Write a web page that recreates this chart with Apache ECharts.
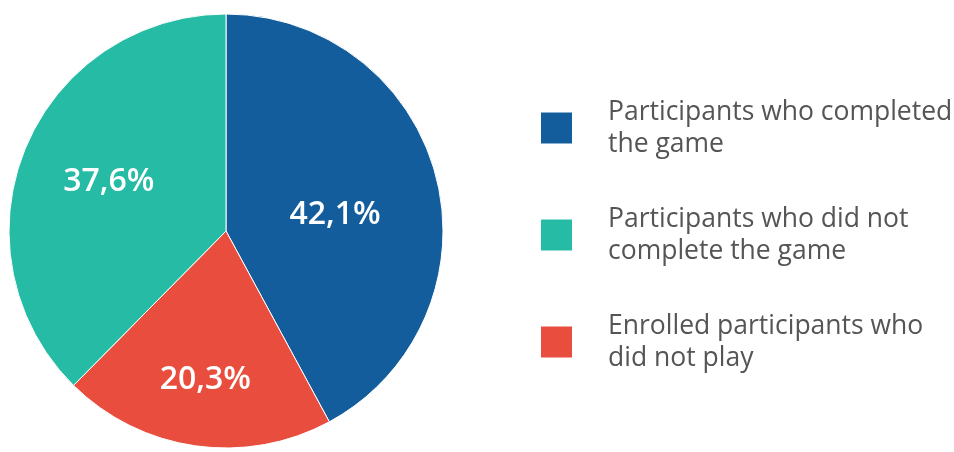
<!DOCTYPE html>
<html>
<head>
<meta charset="utf-8">
<script src="https://cdn.jsdelivr.net/npm/echarts@6/dist/echarts.min.js"></script>
<style>
  html, body { margin: 0; padding: 0; background: #fff; }
  #chart { width: 954px; height: 452px; }
</style>
</head>
<body>
<div id="chart"></div>
<script>
// Participant breakdown (percent of enrolled participants)
const categories = [
  'Participants who completed\nthe game',
  'Enrolled participants who\ndid not play',
  'Participants who did not\ncomplete the game'
];
const shares = [42.1, 20.3, 37.6];
const colors = ['#135D9D', '#E94D3D', '#26BBA4'];

// Legend order as listed beside the pie
const legendOrder = [categories[0], categories[2], categories[1]];

// Nudges for the in-slice percentage labels
const labelNudge = [[1, 11], [-5, 39], [-14, -7]];

const chart = echarts.init(document.getElementById('chart'));
chart.setOption({
  animation: false,
  legend: {
    orient: 'vertical',
    left: 539,
    top: 96,
    padding: 0,
    itemWidth: 33,
    itemHeight: 33,
    itemGap: 43,
    icon: 'rect',
    data: legendOrder,
    textStyle: {
      fontFamily: 'Open Sans',
      fontSize: 26.5,
      lineHeight: 32,
      color: '#555555',
      padding: [0, 0, 0, 30]
    }
  },
  series: [{
    type: 'pie',
    center: [226, 231],
    radius: 217,
    startAngle: 90,
    clockwise: true,
    data: categories.map((name, i) => ({
      name: name,
      value: shares[i],
      itemStyle: { color: colors[i] }
    })),
    itemStyle: { borderColor: '#ffffff', borderWidth: 1 },
    emphasis: { disabled: true },
    label: {
      show: true,
      position: 'inside',
      formatter: p => p.value.toFixed(1).replace('.', ',') + '%',
      fontFamily: 'Open Sans',
      fontSize: 32,
      fontWeight: 600,
      color: '#ffffff'
    },
    labelLayout: p => ({ dx: labelNudge[p.dataIndex][0], dy: labelNudge[p.dataIndex][1] }),
    labelLine: { show: false }
  }]
});
</script>
</body>
</html>
